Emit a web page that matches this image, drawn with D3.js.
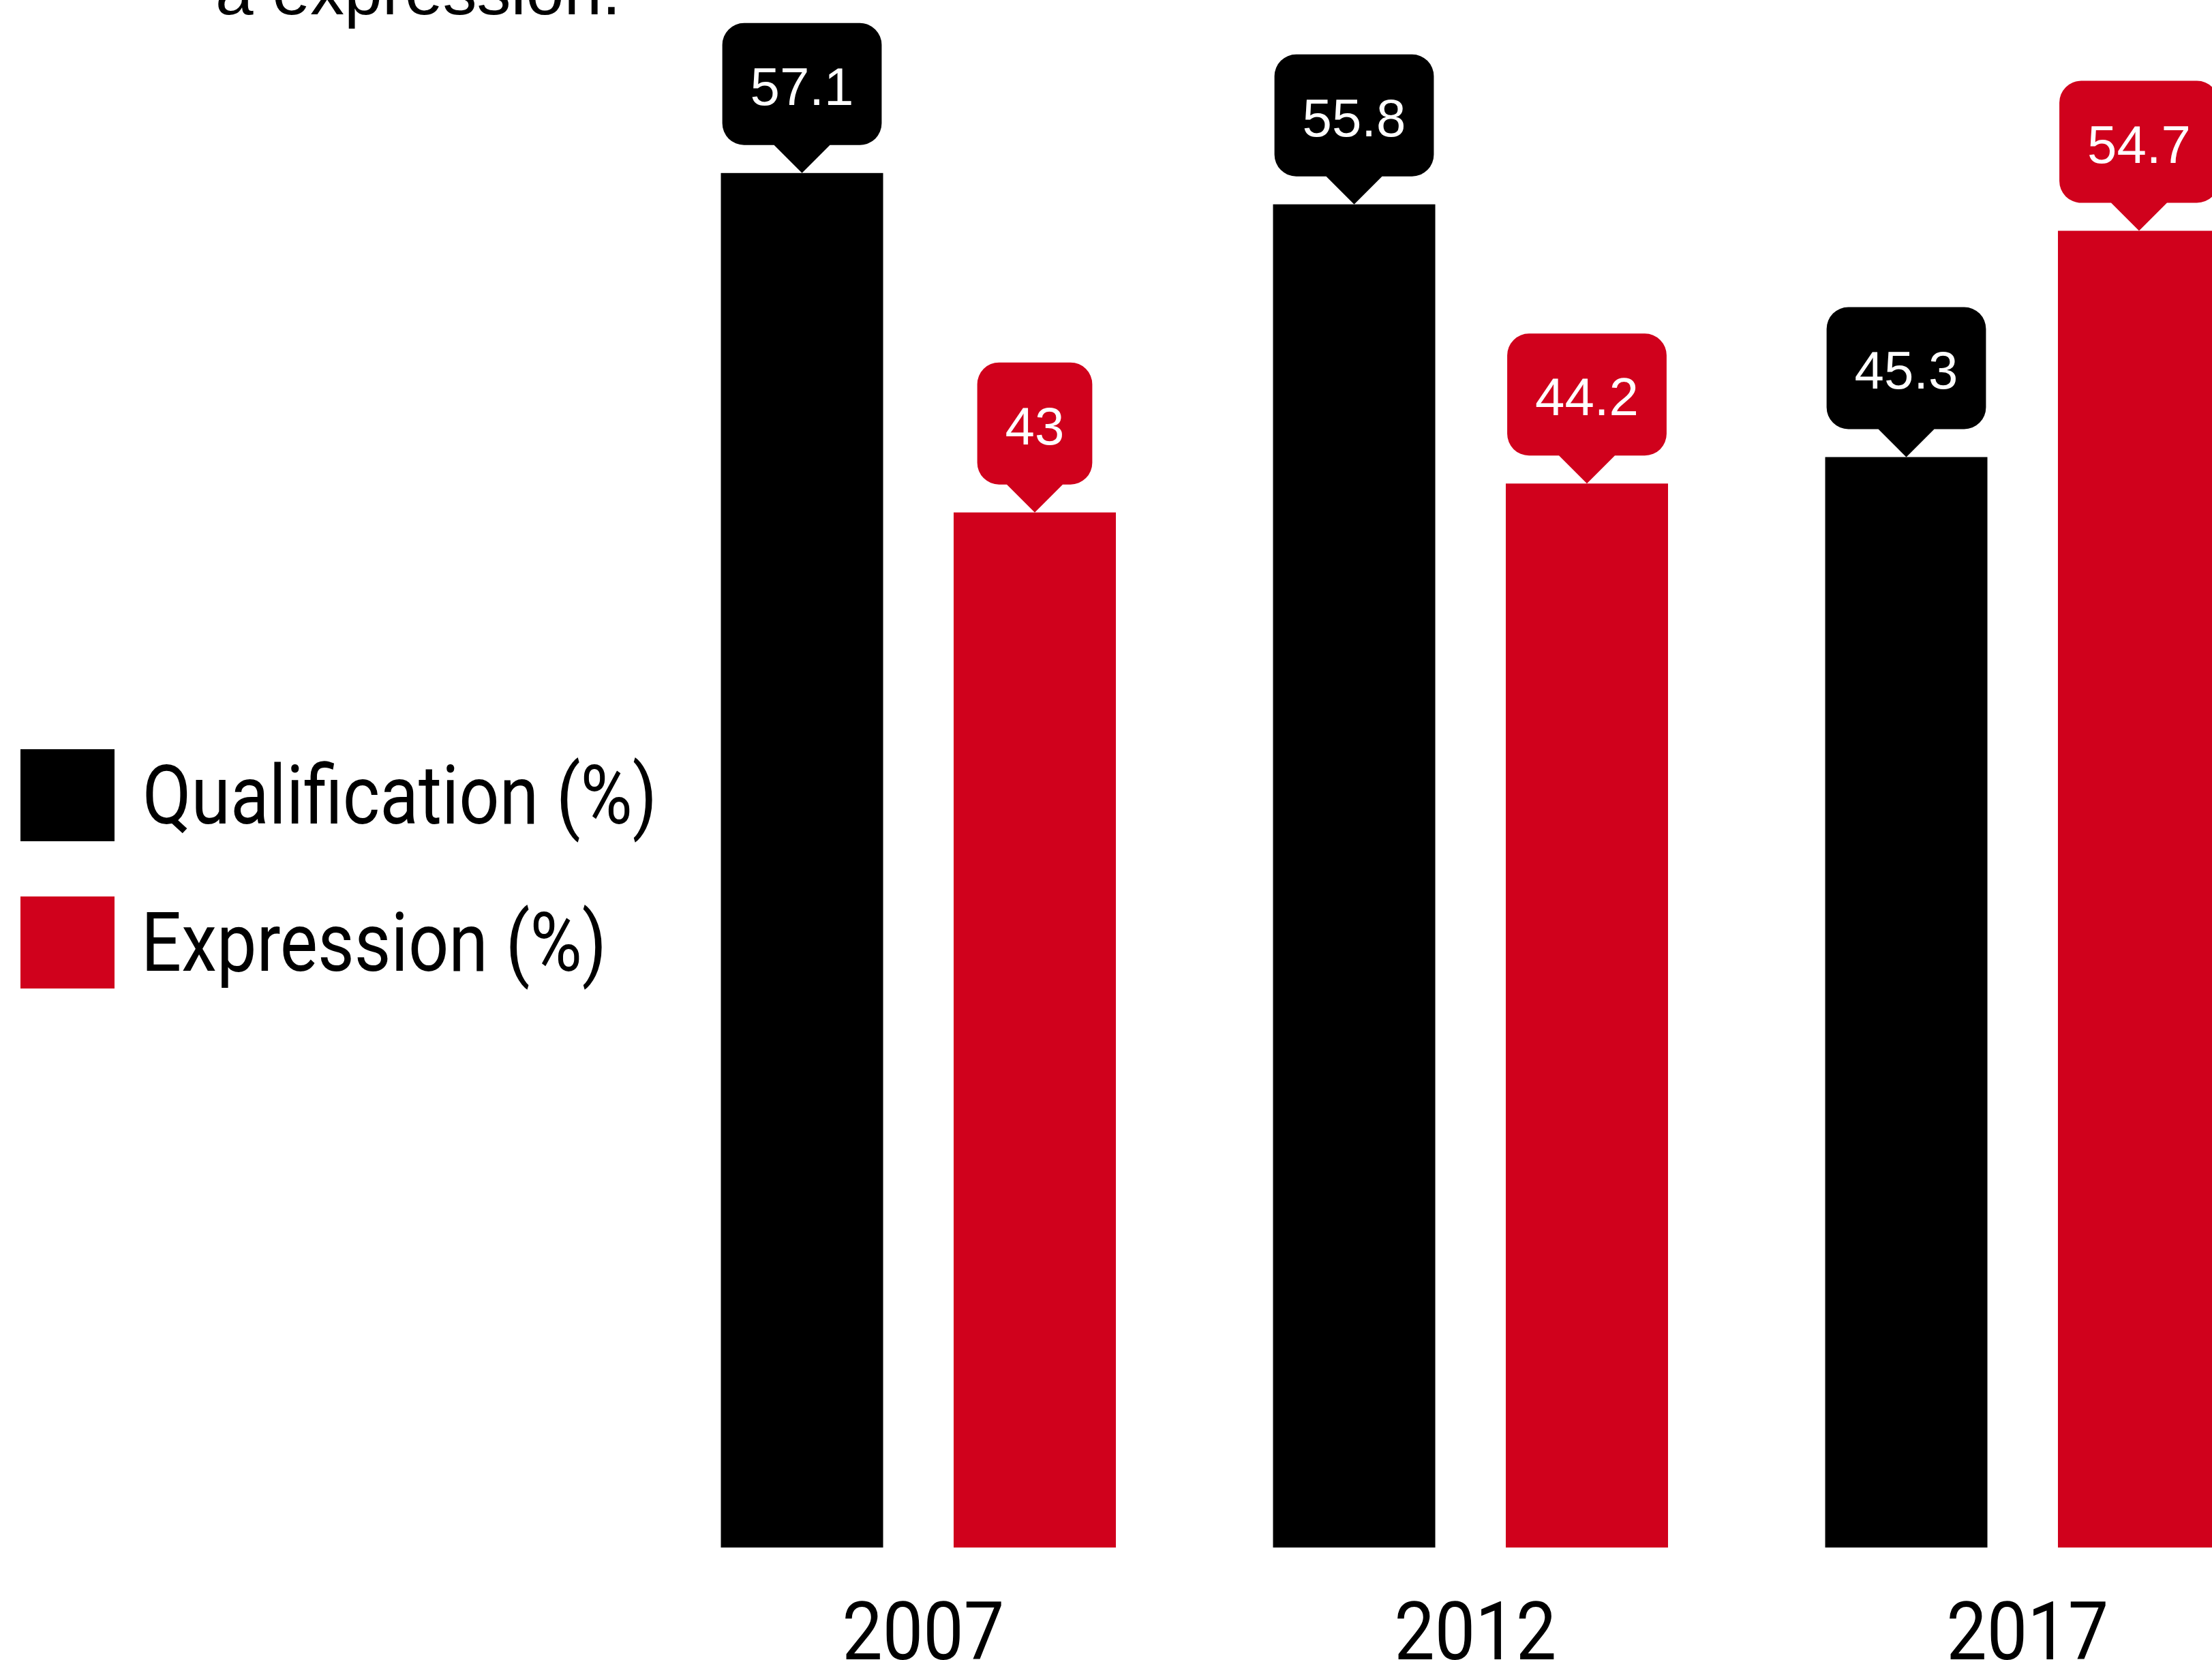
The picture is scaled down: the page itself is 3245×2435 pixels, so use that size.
<!DOCTYPE html>
<html>
<head>
<meta charset="utf-8">
<script src="https://cdn.jsdelivr.net/npm/d3@7"></script>
<style>
  html, body { margin: 0; padding: 0; background: #ffffff; }
  svg { display: block; }
</style>
</head>
<body>
<div id="chart"></div>
<script>
// Survey results by year: share with a qualification vs. share of expression
const years = ["2007", "2012", "2017"];
const seriesKeys = ["qualification", "expression"];
const seriesLabels = ["Qualification (%)", "Expression (%)"];
const seriesColors = ["#000000", "#d0011c"];
const qualification = [57.1, 55.8, 45.3];
const expression = [43, 44.2, 54.7];
const titleTail = "a expression.";

const W = 3245, H = 2435;
const baseY = 2270;

const svg = d3.select("#chart").append("svg")
  .attr("width", W)
  .attr("height", H)
  .attr("viewBox", `0 0 ${W} ${H}`);

// Scales
const y = d3.scaleLinear().domain([0, 60]).range([baseY, baseY - 60 * 35.31]);
const x0 = d3.scaleBand().domain(years)
  .range([942.25, 3372.25])
  .paddingInner(0.2846)
  .paddingOuter(0.1423);
const x1 = d3.scaleBand().domain(seriesKeys)
  .range([0, x0.bandwidth()])
  .paddingInner(0.303);
const color = d3.scaleOrdinal().domain(seriesKeys).range(seriesColors);

const rows = years.map((yr, i) => ({
  year: yr,
  values: [
    { key: "qualification", v: qualification[i] },
    { key: "expression", v: expression[i] }
  ]
}));

// Last line of the heading, running off the top edge
svg.append("text")
  .attr("x", 316)
  .attr("y", 20.7)
  .attr("font-family", "'Liberation Sans', Arial, sans-serif")
  .attr("font-size", 100)
  .attr("fill", "#000")
  .text(titleTail);

// Bars
const groups = svg.append("g").attr("class", "bars")
  .selectAll("g")
  .data(rows)
  .join("g")
  .attr("transform", d => `translate(${x0(d.year)},0)`);

groups.selectAll("rect")
  .data(d => d.values)
  .join("rect")
  .attr("x", d => x1(d.key))
  .attr("y", d => y(d.v))
  .attr("width", x1.bandwidth())
  .attr("height", d => baseY - y(d.v))
  .attr("fill", d => color(d.key));

// Value callouts: rounded box with a pointer down to the bar top
const tipH = 41, boxH = 179, radius = 32, padX = 41;
groups.selectAll("g.callout")
  .data(d => d.values)
  .join("g")
  .attr("class", "callout")
  .each(function (d) {
    const g = d3.select(this);
    const cx = x1(d.key) + x1.bandwidth() / 2;
    const tipY = y(d.v);
    const bottom = tipY - tipH;
    const top = bottom - boxH;
    const label = g.append("text")
      .attr("x", cx)
      .attr("y", top + 120)
      .attr("text-anchor", "middle")
      .attr("font-family", "'Liberation Sans', Arial, sans-serif")
      .attr("font-size", 78)
      .attr("fill", "#ffffff")
      .text(String(d.v));
    const w = label.node().getComputedTextLength() + 2 * padX;
    const left = cx - w / 2, right = cx + w / 2;
    const p = d3.path();
    p.moveTo(left + radius, top);
    p.lineTo(right - radius, top);
    p.arcTo(right, top, right, top + radius, radius);
    p.lineTo(right, bottom - radius);
    p.arcTo(right, bottom, right - radius, bottom, radius);
    p.lineTo(cx + tipH, bottom);
    p.lineTo(cx, tipY);
    p.lineTo(cx - tipH, bottom);
    p.lineTo(left + radius, bottom);
    p.arcTo(left, bottom, left, bottom - radius, radius);
    p.lineTo(left, top + radius);
    p.arcTo(left, top, left + radius, top, radius);
    p.closePath();
    g.insert("path", "text")
      .attr("d", p.toString())
      .attr("fill", color(d.key));
  });

// Year axis
const xAxis = svg.append("g")
  .attr("transform", `translate(0,${baseY})`)
  .call(d3.axisBottom(x0).tickSize(0).tickPadding(0));
xAxis.select(".domain").remove();
xAxis.selectAll("text")
  .attr("y", 164)
  .attr("dy", 0)
  .attr("dx", 7)
  .attr("font-family", "Roboto, sans-serif")
  .attr("font-size", 118)
  .attr("fill", "#000")
  .attr("textLength", 238)
  .attr("lengthAdjust", "spacingAndGlyphs");

// Legend
const legendTops = [1099, 1315];
const legendTextLen = [755, 683];
const legend = svg.append("g").attr("class", "legend")
  .selectAll("g")
  .data(seriesKeys)
  .join("g");
legend.append("rect")
  .attr("x", 30)
  .attr("y", (d, i) => legendTops[i])
  .attr("width", 138)
  .attr("height", 135)
  .attr("fill", d => color(d));
legend.append("text")
  .attr("x", (d, i) => i === 0 ? 209 : 207)
  .attr("y", (d, i) => legendTops[i] + 108.5)
  .attr("font-family", "Roboto, sans-serif")
  .attr("font-size", 121)
  .attr("fill", "#000")
  .attr("textLength", (d, i) => legendTextLen[i])
  .attr("lengthAdjust", "spacingAndGlyphs")
  .text((d, i) => seriesLabels[i]);
</script>
</body>
</html>
